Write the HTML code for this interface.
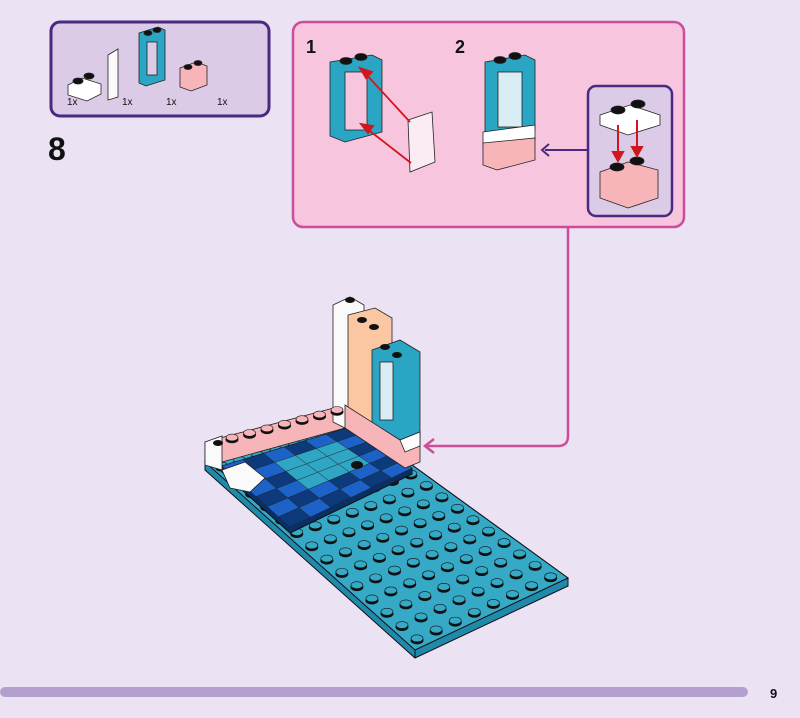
<!DOCTYPE html>
<html><head><meta charset="utf-8"><style>
html,body{margin:0;padding:0;background:#ebe2f3;}
svg{display:block;}
text{font-family:"Liberation Sans",sans-serif;}
</style></head><body>
<svg id="s" width="800" height="718" viewBox="0 0 800 718" xmlns="http://www.w3.org/2000/svg">
<rect width="800" height="718" fill="#ebe2f3"/>
<rect x="51" y="22" width="218" height="94" rx="9" fill="#dccbe6" stroke="#4a2a80" stroke-width="3"/>
<g stroke="#222" stroke-width="0.8">
 <polygon points="68,85 82,78 101,84 101,94 87,101 68,95" fill="#fff"/>
 <ellipse cx="78" cy="81" rx="5" ry="3" fill="#111"/><ellipse cx="89" cy="76" rx="5" ry="3" fill="#111"/>
 <polygon points="118,97 108,100 108,55 118,49" fill="#fafafa"/>
 <polygon points="139,33 158,27 165,30 165,80 146,86 139,83" fill="#2aa5c4"/>
 <rect x="147" y="42" width="10" height="33" fill="#dccbe6"/>
 <ellipse cx="148" cy="33" rx="4" ry="2.5" fill="#111"/><ellipse cx="157" cy="30" rx="4" ry="2.5" fill="#111"/>
 <polygon points="180,68 196,62 207,66 207,85 191,91 180,87" fill="#f7b4b9"/>
 <ellipse cx="188" cy="67" rx="4" ry="2.5" fill="#111"/><ellipse cx="198" cy="63" rx="4" ry="2.5" fill="#111"/>
</g>
<g font-size="10" fill="#111"><text x="67" y="105">1x</text><text x="122" y="105">1x</text><text x="166" y="105">1x</text><text x="217" y="105">1x</text></g>
<text x="48" y="160" font-size="32" font-weight="bold" fill="#111">8</text>
<rect x="293" y="22" width="391" height="205" rx="10" fill="#f7c5de" stroke="#cd4d98" stroke-width="2.5"/>
<text x="306" y="53" font-size="18" font-weight="bold" fill="#111">1</text>
<text x="455" y="53" font-size="18" font-weight="bold" fill="#111">2</text>
<g stroke="#222" stroke-width="0.8">
 <polygon points="330,62 372,55 382,60 382,132 345,142 330,136" fill="#2aa5c4"/>
 <rect x="345" y="72" width="22" height="58" fill="#f7c5de"/>
 <ellipse cx="346" cy="61" rx="6" ry="3.5" fill="#111"/><ellipse cx="361" cy="57" rx="6" ry="3.5" fill="#111"/>
 <polygon points="408,120 432,112 435,162 410,172" fill="#fbecf3"/>
 <polygon points="485,62 525,55 535,60 535,130 497,138 485,132" fill="#2aa5c4"/>
 <rect x="498" y="72" width="24" height="55" fill="#d9eef4"/>
 <ellipse cx="500" cy="60" rx="6" ry="3.5" fill="#111"/><ellipse cx="515" cy="56" rx="6" ry="3.5" fill="#111"/>
 <polygon points="483,132 535,125 535,140 483,145" fill="#fff"/>
 <polygon points="483,143 535,138 535,160 497,170 483,165" fill="#f7b4b9"/>
</g>
<g stroke="#d0161e" stroke-width="1.8" fill="#d0161e">
 <line x1="410" y1="122" x2="364" y2="72"/><polygon points="360,68 372,72 366,78"/>
 <line x1="411" y1="163" x2="366" y2="128"/><polygon points="361,124 373,126 368,133"/>
</g>
<rect x="588" y="86" width="84" height="130" rx="8" fill="#dccbe6" stroke="#4a2a80" stroke-width="2.5"/>
<line x1="588" y1="150" x2="545" y2="150" stroke="#4a2a80" stroke-width="2"/>
<polyline points="549,144 542,150 549,156" fill="none" stroke="#4a2a80" stroke-width="2"/>
<g stroke="#222" stroke-width="0.8">
 <polygon points="600,115 630,105 660,115 660,125 628,135 600,125" fill="#fff"/>
 <ellipse cx="618" cy="110" rx="7" ry="4" fill="#111"/><ellipse cx="638" cy="104" rx="7" ry="4" fill="#111"/>
 <polygon points="600,172 628,162 658,170 658,198 628,208 600,198" fill="#f7b4b9"/>
 <ellipse cx="617" cy="167" rx="7" ry="4" fill="#111"/><ellipse cx="637" cy="161" rx="7" ry="4" fill="#111"/>
</g>
<g stroke="#d0161e" stroke-width="2" fill="#d0161e">
 <line x1="618" y1="125" x2="618" y2="155"/><polygon points="613,152 623,152 618,161"/>
 <line x1="637" y1="120" x2="637" y2="150"/><polygon points="632,147 642,147 637,156"/>
</g>
<path d="M568,228 V436 Q568,446 558,446 H426" fill="none" stroke="#cd4d98" stroke-width="2.5"/>
<polyline points="434,439 425,446 434,453" fill="none" stroke="#cd4d98" stroke-width="2.5"/>
<polygon points="205,462 350,420 568,578 568,586 415,658 205,470" fill="#1f8aab" stroke="#111" stroke-width="1"/>
<polygon points="205,462 350,420 568,578 415,650" fill="#36a9c6" stroke="#111" stroke-width="1"/>
<line x1="415" y1="650" x2="415" y2="658" stroke="#111"/>
<g id="studs"></g>
<g id="floor"></g>
<g stroke="#222" stroke-width="0.8">
 <polygon points="205,442 345,405 345,428 222,462 205,462" fill="#f7b4b9"/>
 <polygon points="205,442 222,436 222,470 205,465" fill="#fafafa"/>
 <polygon points="222,470 245,462 265,478 250,492 230,488" fill="#fafafa"/>
 <polygon points="333,305 350,297 364,305 364,420 345,428 333,422" fill="#fafafa"/>
 <polygon points="348,315 375,308 392,318 392,430 375,440 348,425" fill="#fbc6a2"/>
 <polygon points="372,350 400,340 420,352 420,435 400,445 372,430" fill="#2aa5c4"/>
 <rect x="380" y="362" width="13" height="58" fill="#d9eef4"/>
 <polygon points="345,405 400,440 420,432 420,462 405,468 345,428" fill="#f7b4b9"/>
 <polygon points="400,440 420,432 420,446 405,452" fill="#fff"/>
</g>
<g fill="#111">
 <ellipse cx="350" cy="300" rx="5" ry="3"/><ellipse cx="362" cy="320" rx="5" ry="3"/><ellipse cx="374" cy="327" rx="5" ry="3"/>
 <ellipse cx="385" cy="347" rx="5" ry="3"/><ellipse cx="397" cy="355" rx="5" ry="3"/>
 <ellipse cx="218" cy="443" rx="5" ry="3"/>
</g>
<g id="pstuds"></g>
<text x="770" y="698" font-size="13" font-weight="bold" fill="#111">9</text>
<rect x="0" y="687" width="748" height="10" rx="5" fill="#b3a0ce"/>
</svg>
<script>
var NS="http://www.w3.org/2000/svg";
function el(p,t,a){var e=document.createElementNS(NS,t);for(var k in a)e.setAttribute(k,a[k]);p.appendChild(e);return e;}
function bl(c,u,v){var a=c[0],b=c[1],d=c[2],f=c[3];
 var x=(1-u)*(1-v)*a[0]+u*(1-v)*b[0]+u*v*d[0]+(1-u)*v*f[0];
 var y=(1-u)*(1-v)*a[1]+u*(1-v)*b[1]+u*v*d[1]+(1-u)*v*f[1];return [x,y];}
var P=[[205,462],[350,420],[568,578],[415,650]];
var g=document.getElementById("studs");
for(var i=0;i<8;i++)for(var j=0;j<14;j++){var p=bl(P,(i+.5)/8,(j+.5)/14);
 el(g,"ellipse",{cx:p[0],cy:p[1]+1.5,rx:6.5,ry:4,fill:"#111"});
 el(g,"ellipse",{cx:p[0],cy:p[1]-0.5,rx:6,ry:3.5,fill:"#36a9c6",stroke:"#111","stroke-width":0.6});}
var F=[[222,466],[347,428],[412,468],[290,527]];
var fg=document.getElementById("floor");
el(fg,"polygon",{points:"222,466 347,428 412,468 412,474 290,533 222,472",fill:"#0a2f66",stroke:"#111"});
for(var i=0;i<6;i++)for(var j=0;j<6;j++){
 var a=bl(F,i/6,j/6),b=bl(F,(i+1)/6,j/6),c=bl(F,(i+1)/6,(j+1)/6),d=bl(F,i/6,(j+1)/6);
 var col=((i+j)%2)?"#0d3a7a":"#1d62c8";
 if(i>=2&&i<=4&&j>=1&&j<=3)col="#2fa7c4";
 el(fg,"polygon",{points:a+" "+b+" "+c+" "+d,fill:col,stroke:"#222","stroke-width":0.4});}
[[255,478],[357,465]].forEach(function(p){el(fg,"ellipse",{cx:p[0],cy:p[1],rx:6,ry:4,fill:"#111"});});
var pg=document.getElementById("pstuds");
for(var k=0;k<7;k++){var x=232+k*17.5,y=438-k*4.6;
 el(pg,"ellipse",{cx:x,cy:y+1.5,rx:6.5,ry:3.8,fill:"#111"});
 el(pg,"ellipse",{cx:x,cy:y-0.5,rx:6,ry:3.4,fill:"#f7b4b9",stroke:"#111","stroke-width":0.6});}
</script>
</body></html>
